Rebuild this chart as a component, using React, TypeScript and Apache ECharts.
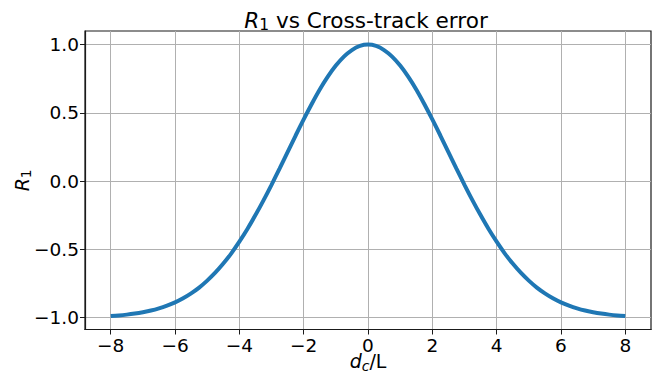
import React, { useEffect, useRef } from "react";
import * as echarts from "echarts";

// Tick positions on both axes
const errorTicks = [-8, -6, -4, -2, 0, 2, 4, 6, 8];
const rewardTicks = [-1.0, -0.5, 0.0, 0.5, 1.0];

// Normalised cross-track error d_c/L and the matching reward R_1
const crossTrackError = [
  -8, -7.75, -7.5, -7.25, -7, -6.75, -6.5, -6.25, -6, -5.75, -5.5, -5.25, -5, -4.75, -4.5, -4.25,
  -4, -3.75, -3.5, -3.25, -3, -2.75, -2.5, -2.25, -2, -1.75, -1.5, -1.25, -1, -0.75, -0.5, -0.25,
  0,
  0.25, 0.5, 0.75, 1, 1.25, 1.5, 1.75, 2, 2.25, 2.5, 2.75, 3, 3.25, 3.5, 3.75, 4,
  4.25, 4.5, 4.75, 5, 5.25, 5.5, 5.75, 6, 6.25, 6.5, 6.75, 7, 7.25, 7.5, 7.75, 8,
];
const rewardR1 = [
  -0.988, -0.984, -0.978, -0.97, -0.96, -0.948, -0.932, -0.912, -0.888, -0.858, -0.822, -0.78,
  -0.729, -0.671, -0.604, -0.529, -0.444, -0.351, -0.249, -0.141, -0.027, 0.092, 0.213, 0.334,
  0.452, 0.565, 0.671, 0.765, 0.846, 0.912, 0.96, 0.99,
  1.0,
  0.99, 0.96, 0.912, 0.846, 0.765, 0.671, 0.565, 0.452, 0.334, 0.213, 0.092, -0.027, -0.141,
  -0.249, -0.351, -0.444, -0.529, -0.604, -0.671, -0.729, -0.78, -0.822, -0.858, -0.888, -0.912,
  -0.932, -0.948, -0.96, -0.97, -0.978, -0.984, -0.988,
];

const FONT = "DejaVu Sans";
const minus = (s: string) => s.replace("-", "\u2212");

export default function App() {
  const ref = useRef<HTMLDivElement>(null);

  useEffect(() => {
    if (!ref.current) return;
    const chart = echarts.init(ref.current, undefined, { renderer: "svg" });
    const points = crossTrackError.map((x, i) => [x, rewardR1[i]]);

    chart.setOption({
      animation: false,
      backgroundColor: "#ffffff",
      textStyle: { fontFamily: FONT },
      title: {
        text: "{it|R}{sub|1}{n| vs Cross-track error}",
        left: 361,
        textAlign: "center",
        top: 2,
        textStyle: {
          fontWeight: "normal",
          rich: {
            it: { fontFamily: FONT, fontSize: 21.6, fontStyle: "italic", fontWeight: "normal", color: "#000" },
            sub: { fontFamily: FONT, fontSize: 15.5, fontWeight: "normal", color: "#000", verticalAlign: "bottom", padding: [10, 0, 0, 0] },
            n: { fontFamily: FONT, fontSize: 21.6, fontWeight: "normal", color: "#000" },
          },
        },
      },
      grid: {
        left: 85,
        top: 31,
        width: 566,
        height: 298.5,
        outerBoundsMode: "none",
        containLabel: false,
        show: true,
        borderColor: "#1a1a1a",
        borderWidth: 1.2,
        backgroundColor: "transparent",
      },
      xAxis: {
        type: "value",
        min: -8.8,
        max: 8.8,
        name: "{it|d}{sub|c}{n|/L}",
        nameLocation: "middle",
        nameGap: 20,
        nameMoveOverlap: false,
        nameTextStyle: {
          rich: {
            it: { fontFamily: FONT, fontSize: 19, fontStyle: "italic", color: "#000" },
            sub: { fontFamily: FONT, fontSize: 14, fontStyle: "italic", color: "#000", verticalAlign: "bottom", padding: [9, 0, 0, 0] },
            n: { fontFamily: FONT, fontSize: 19, color: "#000" },
          },
        },
        axisLine: { show: true, onZero: false, lineStyle: { color: "#1a1a1a", width: 1.2 } },
        axisTick: {
          show: true,
          customValues: errorTicks,
          length: 5,
          inside: false,
          lineStyle: { color: "#1a1a1a", width: 1 },
        },
        axisLabel: {
          customValues: errorTicks,
          margin: 6,
          fontFamily: FONT,
          fontSize: 18.5,
          color: "#000",
          formatter: (v: number) => minus(String(Math.round(v))),
        },
        splitLine: { show: true, lineStyle: { color: "#b0b0b0", width: 1 } },
      },
      yAxis: {
        type: "value",
        min: -1.087,
        max: 1.0995,
        name: "{it|R}{sub|1}",
        nameLocation: "middle",
        nameRotate: 90,
        nameGap: 52,
        nameMoveOverlap: false,
        nameTextStyle: {
          rich: {
            it: { fontFamily: FONT, fontSize: 19, fontStyle: "italic", color: "#000" },
            sub: { fontFamily: FONT, fontSize: 14, color: "#000", verticalAlign: "bottom", padding: [9, 0, 0, 0] },
          },
        },
        axisLine: { show: true, onZero: false, lineStyle: { color: "#1a1a1a", width: 1.2 } },
        axisTick: {
          show: true,
          customValues: rewardTicks,
          length: 5,
          inside: false,
          lineStyle: { color: "#1a1a1a", width: 1 },
        },
        axisLabel: {
          customValues: rewardTicks,
          margin: 6,
          fontFamily: FONT,
          fontSize: 18.5,
          color: "#000",
          formatter: (v: number) => minus(v.toFixed(1)),
        },
        splitLine: { show: true, lineStyle: { color: "#b0b0b0", width: 1 } },
      },
      series: [
        {
          type: "line",
          data: points,
          smooth: 0.3,
          showSymbol: false,
          lineStyle: { color: "#1f77b4", width: 4 },
          itemStyle: { color: "#1f77b4" },
        },
      ],
    });

    return () => chart.dispose();
  }, []);

  return (
    <div
      ref={ref}
      style={{ position: "fixed", left: 0, top: 0, width: 660, height: 376, background: "#fff" }}
    />
  );
}
